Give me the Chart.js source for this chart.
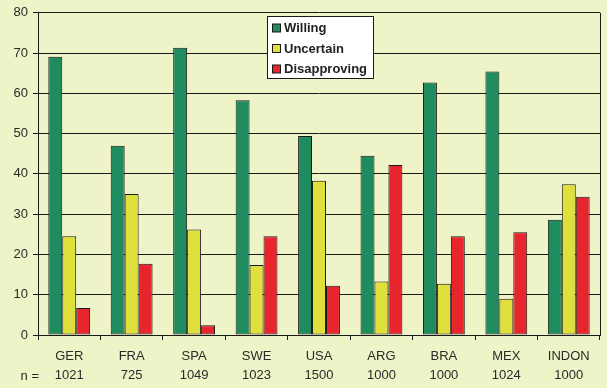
<!DOCTYPE html>
<html>
<head>
<meta charset="utf-8">
<script src="https://cdn.jsdelivr.net/npm/chart.js@4/dist/chart.umd.min.js"></script>
<style>
  html, body { margin: 0; padding: 0; background: #eff3c8; }
  #wrap { width: 607px; height: 388px; position: relative; }
</style>
</head>
<body>
<div id="wrap"><canvas id="chart"></canvas></div>
<script>
const categories = ['GER', 'FRA', 'SPA', 'SWE', 'USA', 'ARG', 'BRA', 'MEX', 'INDON'];
const sampleSizes = ['1021', '725', '1049', '1023', '1500', '1000', '1000', '1024', '1000'];
const willing = [69.1, 47.0, 71.3, 58.3, 49.4, 44.5, 62.7, 65.4, 28.6];
const uncertain = [24.5, 35.0, 26.2, 17.4, 38.3, 13.3, 12.7, 9.0, 37.4];
const disapproving = [6.7, 17.7, 2.4, 24.5, 12.2, 42.2, 24.5, 25.5, 34.3];
const seriesNames = ['Willing', 'Uncertain', 'Disapproving'];

const FONT = "Arial, 'Liberation Sans', sans-serif";
const INK = '#1a1a1a';

// legend box inside the plot + right border + "n =" label
const extras = {
  id: 'extras',
  afterDraw(chart) {
    const ctx = chart.ctx;
    const a = chart.chartArea;
    ctx.save();
    ctx.strokeStyle = INK;
    ctx.lineWidth = 1;
    ctx.beginPath();
    ctx.moveTo(Math.round(a.right) + 0.5, a.top);
    ctx.lineTo(Math.round(a.right) + 0.5, a.bottom);
    ctx.stroke();

    // legend
    const lx = 267.5, ly = 16.5, lw = 106, lh = 62;
    ctx.fillStyle = '#ffffff';
    ctx.fillRect(lx, ly, lw, lh);
    ctx.strokeRect(lx, ly, lw, lh);
    ctx.font = 'bold 13px ' + FONT;
    ctx.textBaseline = 'middle';
    chart.data.datasets.forEach((ds, i) => {
      const cy = 28 + i * 20.5;
      ctx.fillStyle = ds.backgroundColor;
      ctx.fillRect(272.5, cy - 4, 8, 8);
      ctx.strokeRect(272.5, cy - 4, 8, 8);
      ctx.fillStyle = '#222222';
      ctx.fillText(ds.label, 284, cy + 0.5);
    });

    // n =
    ctx.font = '13px ' + FONT;
    ctx.fillStyle = '#2a2a2a';
    ctx.textAlign = 'right';
    ctx.fillText('n =', 39, 376);
    ctx.restore();
  }
};

new Chart(document.getElementById('chart'), {
  type: 'bar',
  data: {
    labels: categories.map((c, i) => [c, sampleSizes[i]]),
    datasets: [
      { label: seriesNames[0], data: willing, backgroundColor: '#1e8c5f' },
      { label: seriesNames[1], data: uncertain, backgroundColor: '#e0e03c' },
      { label: seriesNames[2], data: disapproving, backgroundColor: '#e8242c' }
    ].map(d => Object.assign(d, {
      borderColor: INK, borderWidth: 1, borderSkipped: false,
      categoryPercentage: 0.67, barPercentage: 1.0
    }))
  },
  options: {
    responsive: true,
    maintainAspectRatio: false,
    animation: false,
    layout: { padding: { top: 10, right: 7, left: 0, bottom: 0 } },
    plugins: { legend: { display: false }, tooltip: { enabled: false } },
    scales: {
      x: {
        grid: { drawOnChartArea: false, offset: true, tickLength: 5, color: INK },
        border: { color: INK },
        ticks: { color: '#2a2a2a', font: { family: FONT, size: 13, lineHeight: 1.45 }, padding: 7, maxRotation: 0 },
        afterFit(s) { s.height = 53; }
      },
      y: {
        min: 0, max: 80,
        grid: { color: INK, tickLength: 5 },
        border: { color: INK },
        ticks: { stepSize: 10, color: '#2a2a2a', font: { family: FONT, size: 13 }, padding: 5 },
        afterFit(s) { s.width = 38; }
      }
    }
  },
  plugins: [extras]
});
</script>
</body>
</html>
